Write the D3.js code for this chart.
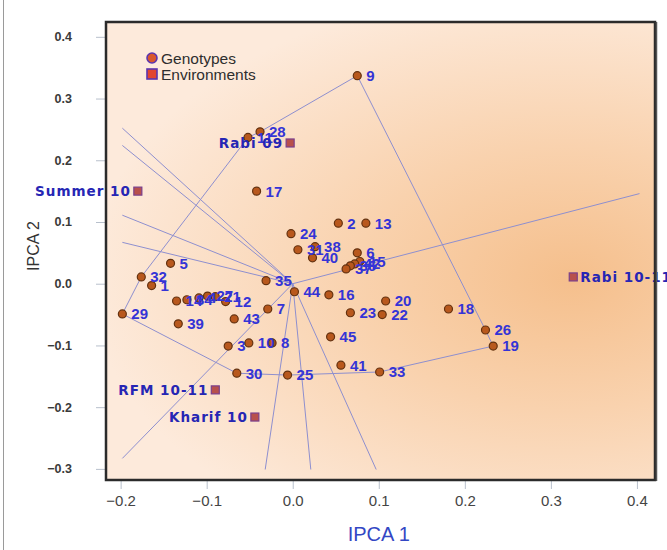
<!DOCTYPE html>
<html>
<head>
<meta charset="utf-8">
<script src="https://cdn.jsdelivr.net/npm/d3@7"></script>
<style>
  html, body { margin: 0; padding: 0; background: #ffffff; }
  svg { display: block; }
</style>
</head>
<body>
<svg id="chart" width="667" height="550"></svg>
<script>
// ---------- DATA ----------
const genoIds = ["1","2","3","5","7","8","9","10","12","13","16","17","18","19","20","22","23","24","25","26",
                 "29","30","31","32","33","35","38","39","40","41","43","44","45",
                 "11","28","14","34","4","27","21","6","15","42","36","37"];
const genoX = [-0.164, 0.053, -0.075, -0.142, -0.029, -0.024, 0.075, -0.051, -0.078, 0.085, 0.042, -0.042, 0.181, 0.233, 0.108, 0.104, 0.067, -0.002, -0.006, 0.224,
               -0.198, -0.065, 0.006, -0.176, 0.101, -0.031, 0.026, -0.133, 0.023, 0.056, -0.068, 0.002, 0.044,
               -0.052, -0.038, -0.135, -0.123, -0.109, -0.099, -0.090, 0.075, 0.078, 0.072, 0.067, 0.062];
const genoY = [-0.003, 0.098, -0.101, 0.033, -0.041, -0.096, 0.337, -0.096, -0.029, 0.098, -0.018, 0.150, -0.041, -0.101, -0.028, -0.050, -0.047, 0.081, -0.148, -0.075,
               -0.049, -0.145, 0.055, 0.011, -0.143, 0.005, 0.060, -0.065, 0.042, -0.132, -0.057, -0.013, -0.086,
               0.237, 0.246, -0.028, -0.026, -0.023, -0.020, -0.021, 0.050, 0.036, 0.032, 0.029, 0.024];

const envNames = ["Summer 10", "Rabi 09", "Rabi 10-11", "RFM 10-11", "Kharif 10"];
const envX = [-0.180, -0.003, 0.326, -0.090, -0.044];
const envY = [0.150, 0.228, 0.011, -0.172, -0.216];
const envLabelSide = ["left", "left", "right", "left", "left"];

// convex hull (which-won-where polygon) vertices, by genotype id
const hullIds = ["9", "28", "11", "32", "29", "30", "25", "33", "19", "26"];

// sector rays from the origin: end points
const rayX = [-0.198, -0.198, -0.198, -0.198, -0.198, -0.032, 0.021, 0.097, 0.403];
const rayY = [0.252, 0.224, 0.111, 0.067, -0.283, -0.301, -0.301, -0.301, 0.146];

const xTicks = [-0.2, -0.1, 0.0, 0.1, 0.2, 0.3, 0.4];
const yTicks = [-0.3, -0.2, -0.1, 0.0, 0.1, 0.2, 0.3, 0.4];
const legendLabels = ["Genotypes", "Environments"];

// ---------- LAYOUT ----------
const svg = d3.select("#chart");
const L = 106, R = 655, T = 22, B = 480;
const x = d3.scaleLinear().domain([-0.217, 0.421]).range([L, R]);
const y = d3.scaleLinear().domain([-0.318, 0.424]).range([B, T]);

// outer figure line
svg.append("line").attr("x1", 3.5).attr("x2", 3.5).attr("y1", 0).attr("y2", 550)
  .attr("stroke", "#9a9a9a").attr("stroke-width", 1);

// background gradient
const defs = svg.append("defs");
const grad = defs.append("radialGradient").attr("id", "bg")
  .attr("cx", 0.82).attr("cy", 0.56).attr("r", 0.85)
  .attr("fx", 0.85).attr("fy", 0.56)
  .attr("gradientTransform", "translate(0.82,0.56) scale(1,0.75) translate(-0.82,-0.56)");
grad.append("stop").attr("offset", 0).attr("stop-color", "#f5bf8c");
grad.append("stop").attr("offset", 0.45).attr("stop-color", "#f9d2ae");
grad.append("stop").attr("offset", 1).attr("stop-color", "#fdeadb");

svg.append("rect").attr("x", L).attr("y", T).attr("width", R - L).attr("height", B - T)
  .attr("fill", "url(#bg)");

// axes
const yAxis = d3.axisLeft(y).tickValues(yTicks).tickFormat(d3.format(".1f")).tickSize(10).tickPadding(24);
const gy = svg.append("g").attr("transform", `translate(${L},0)`).call(yAxis);
gy.select(".domain").remove();
gy.selectAll(".tick line").attr("stroke", "#b8c0cc");
gy.selectAll(".tick text").attr("fill", "#3a3a3a").attr("font-family", "Liberation Sans, Arial, sans-serif")
  .attr("font-size", 12.5).attr("font-weight", "bold");

const xAxis = d3.axisBottom(x).tickValues(xTicks).tickFormat(d3.format(".1f")).tickSize(9).tickPadding(6);
const gx = svg.append("g").attr("transform", `translate(0,${B})`).call(xAxis);
gx.select(".domain").remove();
gx.selectAll(".tick line").attr("stroke", "#b8c0cc");
gx.selectAll(".tick text").attr("fill", "#444").attr("font-family", "Liberation Sans, Arial, sans-serif")
  .attr("font-size", 15);

// axis titles
svg.append("text").attr("x", x(0.1)).attr("y", 541).attr("text-anchor", "middle")
  .attr("font-family", "Liberation Sans, Arial, sans-serif").attr("font-size", 20)
  .attr("fill", "#3347c4").text("IPCA 1");
svg.append("text").attr("transform", "translate(39,246) rotate(-90)").attr("text-anchor", "middle")
  .attr("font-family", "Liberation Sans, Arial, sans-serif").attr("font-size", 16)
  .attr("fill", "#333").text("IPCA 2");

const plot = svg.append("g");
const lineColor = "#8e8fcf";

// rays
plot.selectAll("line.ray").data(rayX.map((d, i) => ({ x: d, y: rayY[i] })))
  .join("line").attr("class", "ray")
  .attr("x1", x(0)).attr("y1", y(0))
  .attr("x2", d => x(d.x)).attr("y2", d => y(d.y))
  .attr("stroke", lineColor).attr("stroke-width", 1);

// hull
const genos = genoIds.map((id, i) => ({ id, x: genoX[i], y: genoY[i] }));
const byId = new Map(genos.map(g => [g.id, g]));
const hullPts = hullIds.map(id => byId.get(id));
plot.append("path")
  .attr("d", d3.line().x(d => x(d.x)).y(d => y(d.y))(hullPts) + "Z")
  .attr("fill", "none").attr("stroke", lineColor).attr("stroke-width", 1);

// genotype points
plot.selectAll("circle.g").data(genos).join("circle").attr("class", "g")
  .attr("cx", d => x(d.x)).attr("cy", d => y(d.y)).attr("r", 4)
  .attr("fill", "#b8581d").attr("stroke", "#643210").attr("stroke-width", 1.2);

// genotype labels
plot.selectAll("text.g").data(genos).join("text").attr("class", "g")
  .attr("x", d => x(d.x) + 9).attr("y", d => y(d.y)).attr("dy", "0.36em")
  .attr("font-family", "Liberation Sans, Arial, sans-serif").attr("font-size", 15)
  .attr("font-weight", "bold").attr("fill", "#3434d6").text(d => d.id);

// environments
const envs = envNames.map((n, i) => ({ n, x: envX[i], y: envY[i], side: envLabelSide[i] }));
plot.selectAll("rect.e").data(envs).join("rect").attr("class", "e")
  .attr("x", d => x(d.x) - 4).attr("y", d => y(d.y) - 4).attr("width", 8).attr("height", 8)
  .attr("fill", "#b8504c").attr("stroke", "#7a3f8c").attr("stroke-width", 1.2);
plot.selectAll("text.e").data(envs).join("text").attr("class", "e")
  .attr("x", d => d.side === "left" ? x(d.x) - 7 : x(d.x) + 7)
  .attr("y", d => y(d.y)).attr("dy", "0.36em")
  .attr("text-anchor", d => d.side === "left" ? "end" : "start")
  .attr("font-family", "DejaVu Sans, Verdana, sans-serif").attr("font-size", 13.5)
  .attr("font-weight", "bold").attr("letter-spacing", "1px")
  .attr("fill", "#2626b4").text(d => d.n);

// legend
const leg = svg.append("g");
legendLabels.forEach((t, i) => {
  const ly = 58 + i * 16;
  if (i === 0) {
    leg.append("circle").attr("cx", 152).attr("cy", ly).attr("r", 5)
      .attr("fill", "#d9582c").attr("stroke", "#5a35b0").attr("stroke-width", 1.6);
  } else {
    leg.append("rect").attr("x", 147).attr("y", ly - 5).attr("width", 10).attr("height", 10)
      .attr("fill", "#e2452f").attr("stroke", "#5a35b0").attr("stroke-width", 1.6);
  }
  leg.append("text").attr("x", 161).attr("y", ly).attr("dy", "0.36em")
    .attr("font-family", "Liberation Sans, Arial, sans-serif").attr("font-size", 15.5)
    .attr("fill", "#2e2e2e").text(t);
});

// frame
svg.append("rect").attr("x", L).attr("y", T).attr("width", R - L).attr("height", B - T)
  .attr("fill", "none").attr("stroke", "#2b2b2b").attr("stroke-width", 2.5);
svg.append("line").attr("x1", R + 1.5).attr("x2", R + 1.5).attr("y1", T).attr("y2", B + 1)
  .attr("stroke", "#555").attr("stroke-width", 1.5);
</script>
</body>
</html>
